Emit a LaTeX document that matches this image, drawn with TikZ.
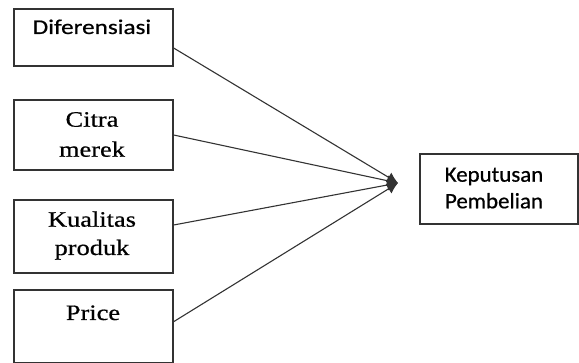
\documentclass[tikz,border=0pt]{standalone}
\usepackage{fontspec}
\usetikzlibrary{arrows.meta}
\newfontfamily\serw[FakeStretch=1.2,FakeBold=0.6]{Liberation Serif}
\newfontfamily\difw[FakeStretch=1.2,FakeBold=0.6]{Carlito}
\newfontfamily\kepw[FakeStretch=1.04,FakeBold=0.6]{Carlito}
\definecolor{ink}{HTML}{333333}
\tikzset{
  box/.style={draw=ink, line width=1.3pt, inner sep=0pt},
  lbl/.style={inner sep=0pt, anchor=base, align=center, text=black},
  conn/.style={draw=ink, line width=1.1pt, -{Latex[length=11pt,width=11pt]}, shorten >=0pt},
}
\begin{document}
\begin{tikzpicture}[x=1pt,y=1pt]
\useasboundingbox (0,0) rectangle (579,362);
% boxes
\node[box, minimum width=159pt, minimum height=57pt] (b1) at (93.5,324.5) {};
\node[box, minimum width=159pt, minimum height=70pt] (b2) at (93.5,227) {};
\node[box, minimum width=159pt, minimum height=73pt] (b3) at (93.5,125.5) {};
\node[box, minimum width=159pt, minimum height=73pt] (b4) at (93.5,35.5) {};
\node[box, minimum width=158pt, minimum height=70pt] (kp) at (499,173) {};
% labels
\node[lbl, font=\difw\fontsize{21}{24}\selectfont] (t1) at (92,328) {Diferensiasi};
\node[lbl, font=\serw\fontsize{22}{30}\selectfont] (t2a) at (92,235.3) {Citra};
\node[lbl, font=\serw\fontsize{22}{30}\selectfont] (t2b) at (92,205.3) {merek};
\node[lbl, font=\serw\fontsize{22}{30}\selectfont] (t3a) at (92,135.3) {Kualitas};
\node[lbl, font=\serw\fontsize{22}{30}\selectfont] (t3b) at (92,107) {produk};
\node[lbl, font=\serw\fontsize{22}{30}\selectfont] (t4) at (93,42) {Price};
\node[lbl, font=\kepw\fontsize{22}{27}\selectfont] (t5a) at (494,180.3) {Keputusan};
\node[lbl, font=\kepw\fontsize{22}{27}\selectfont] (t5b) at (494,153.7) {Pembelian};
% hub
\coordinate (hub) at (398,179);
\draw[conn] ([yshift=-10.5pt]b1.east) -- (hub);
\draw[conn] (b2.east) -- (hub);
\draw[conn] ([yshift=11.5pt]b3.east) -- (hub);
\draw[conn] ([yshift=4.8pt]b4.east) -- (hub);
\end{tikzpicture}
\end{document}
